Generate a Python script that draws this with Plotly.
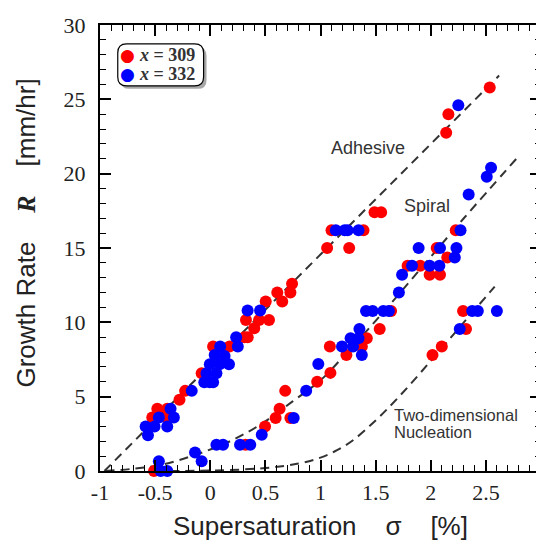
import plotly.graph_objects as go

# ---- data ----
red_x = [-0.51, -0.526, -0.39, -0.48, -0.39, -0.279, -0.228, -0.078, 0.026, 0.175,
         0.31, 0.34, 0.399, 0.324, 0.443, 0.533, 0.503, 0.653, 0.608, 0.727, 0.742,
         1.06, 1.26, 1.10, 1.39, 1.49, 1.55, 2.14, 2.16, 2.535,
         0.32, 0.497, 0.593, 0.727, 0.629, 0.68, 0.97, 1.09,
         1.085, 1.375, 1.235, 1.42, 1.537, 1.64, 1.79, 1.905, 1.99, 2.084, 2.054, 2.15, 2.227,
         2.016, 2.10, 2.32, 2.293]
red_y = [0.0, 3.6, 3.6, 4.18, 4.18, 4.79, 5.39, 6.58, 8.37, 8.37,
         9.0, 9.0, 9.6, 10.15, 10.15, 10.15, 11.4, 11.4, 12.0, 12.0, 12.6,
         15.0, 15.0, 16.2, 16.2, 17.4, 17.4, 22.75, 24.0, 25.8,
         1.77, 3.0, 3.56, 3.56, 4.18, 5.39, 6.0, 6.6,
         8.37, 8.37, 7.8, 8.93, 9.55, 10.76, 13.8, 13.8, 13.2, 13.2, 15.0, 14.36, 16.2,
         7.8, 8.37, 9.55, 10.76]

blue_x = [-0.565, -0.586, -0.505, -0.39, -0.466, -0.33, -0.36, -0.168, -0.054, -0.004, 0.026,
          -0.034, 0.056, -0.004, 0.085, 0.17, 0.04, 0.13, 0.09, 0.25, 0.235, 0.339, 0.452,
          1.139, 1.219, 1.246, 1.345, 2.25,
          -0.466, -0.45, -0.39, -0.138, -0.078, 0.056, 0.116, 0.27, 0.363, 0.467, 0.757,
          0.87, 0.98,
          1.195, 1.295, 1.273, 1.345, 1.353, 1.375, 1.413, 1.473, 1.57, 1.62, 1.711, 1.74,
          1.83, 1.99, 2.078, 1.89, 2.084, 2.233, 2.218, 2.27, 2.344, 2.508, 2.547,
          2.263, 2.376, 2.427, 2.6]
blue_y = [2.4, 3.0, 3.0, 3.0, 3.6, 3.6, 4.18, 5.39, 5.97, 5.97, 5.97,
          6.58, 6.58, 7.18, 7.18, 7.18, 7.8, 7.74, 8.37, 8.37, 9.0, 10.8, 10.8,
          16.2, 16.2, 16.2, 16.2, 24.6,
          0.65, 0.0, 0.0, 1.25, 0.65, 1.77, 1.77, 1.77, 1.77, 2.44, 3.56,
          5.4, 7.2,
          8.37, 8.37, 8.93, 8.93, 9.55, 7.8, 10.76, 10.76, 10.76, 10.76, 12.0, 13.2,
          13.8, 13.8, 13.8, 15.0, 15.0, 15.0, 14.36, 16.2, 18.6, 19.8, 20.4,
          9.55, 10.76, 10.76, 10.76]

# model curves (sampled from the figure)
adh_x = [-0.96, 2.62]
adh_y = [0.0, 26.6]
spi_x = [-0.95, -0.7, -0.45, -0.15, 0.15, 0.45, 0.75, 1.0, 1.22, 1.5, 1.7, 2.0, 2.3, 2.8]
spi_y = [0.0, 0.15, 0.4, 1.05, 1.9, 3.1, 4.7, 6.1, 7.8, 10.1, 11.8, 14.4, 17.0, 21.2]
nuc_x = [-0.5, 0.0, 0.5, 0.8, 1.0, 1.15, 1.3, 1.5, 1.7, 2.0, 2.3, 2.58]
nuc_y = [0.0, 0.03, 0.2, 0.5, 0.9, 1.4, 2.1, 3.4, 4.9, 7.4, 10.0, 12.4]

x_ticks = [-1, -0.5, 0, 0.5, 1, 1.5, 2, 2.5, 3]
x_labels = ["-1", "-0.5", "0", "0.5", "1", "1.5", "2", "2.5", "3"]
y_ticks = [0, 5, 10, 15, 20, 25, 30]

series_names = ["<b><i>x</i> = 309</b>", "<b><i>x</i> = 332</b>"]
series_colors = ["#ff0000", "#0000ff"]

fig = go.Figure()
dash_style = dict(color="#333333", width=2, dash="9px,6px")
for cx, cy, sh in [(adh_x, adh_y, "linear"), (spi_x, spi_y, "spline"), (nuc_x, nuc_y, "spline")]:
    fig.add_trace(go.Scatter(x=cx, y=cy, mode="lines", line=dict(shape=sh, **dash_style),
                             showlegend=False, hoverinfo="skip"))

for xs, ys, nm, col in [(red_x, red_y, series_names[0], series_colors[0]),
                        (blue_x, blue_y, series_names[1], series_colors[1])]:
    fig.add_trace(go.Scatter(x=xs, y=ys, mode="markers", name=nm, showlegend=False,
                             marker=dict(color=col, size=12), cliponaxis=False))

serif = "Liberation Serif"
sans = "Liberation Sans"
nb = "\u00a0"

W, H = 447.0, 447.0
def px2paper(px, py):
    return (px - 92) / W, 1 - (py - 16) / H

# legend box (rounded, with shadow)
def rrect(x0, y0, x1, y1, rx, ry):
    return (f"M {x0+rx},{y0} L {x1-rx},{y0} Q {x1},{y0} {x1},{y0+ry} "
            f"L {x1},{y1-ry} Q {x1},{y1} {x1-rx},{y1} L {x0+rx},{y1} "
            f"Q {x0},{y1} {x0},{y1-ry} L {x0},{y0+ry} Q {x0},{y0} {x0+rx},{y0} Z")

ax0, ay0 = px2paper(110, 77)
ax1, ay1 = px2paper(197, 35)
sx, sy = 3 / W, 3 / H
rx, ry = 9 / W, 9 / H
fig.add_shape(type="path", xref="paper", yref="paper",
              path=rrect(ax0 + sx, ay0 - sy, ax1 + sx, ay1 - sy, rx, ry),
              fillcolor="rgba(110,110,110,0.6)", line=dict(width=0), layer="above")
fig.add_shape(type="path", xref="paper", yref="paper",
              path=rrect(ax0, ay0, ax1, ay1, rx, ry),
              fillcolor="white", line=dict(color="black", width=1.2), layer="above")

# legend entries
for i, (nm, col) in enumerate(zip(series_names, series_colors)):
    row_y = 46 + 19 * i
    bx, by = px2paper(120, row_y)
    fig.add_annotation(xref="paper", yref="paper", x=bx, y=by, text="●", showarrow=False,
                       xanchor="center", yanchor="middle",
                       font=dict(family="DejaVu Sans", size=17, color=col))
    tx, ty = px2paper(130, row_y)
    fig.add_annotation(xref="paper", yref="paper", x=tx, y=ty, text=nm, showarrow=False,
                       xanchor="left", yanchor="middle",
                       font=dict(family=serif, size=18, color="#333333"))

# curve labels
ann_font = dict(family=sans, size=18, color="#333333")
fig.add_annotation(x=1.43, y=21.7, text="Adhesive", showarrow=False, font=ann_font)
fig.add_annotation(x=1.97, y=17.85, text="Spiral", showarrow=False, font=ann_font)
nuc_font = dict(family=sans, size=16.5, color="#333333")
fig.add_annotation(x=1.65, y=3.75, text="Two-dimensional", showarrow=False,
                   font=nuc_font, xanchor="left", yanchor="middle")
fig.add_annotation(x=1.65, y=2.6, text="Nucleation", showarrow=False,
                   font=nuc_font, xanchor="left", yanchor="middle")

# axis titles
title_font = dict(family=sans, size=26, color="#222222")
xt, yt = px2paper(315, 518)
fig.add_annotation(xref="paper", yref="paper", x=xt, y=yt, xanchor="center", yanchor="middle",
                   text=f"Supersaturation{nb*4}σ{nb*4}[%]", showarrow=False, font=title_font)
xt, yt = px2paper(17, 225)
fig.add_annotation(xref="paper", yref="paper", x=xt, y=yt, xanchor="center", yanchor="middle",
                   text=f"Growth Rate{nb*4}<b><i><span style='font-family:Liberation Serif'>R</span></i></b>{nb*4}[mm/hr]",
                   showarrow=False, textangle=-90, font=title_font)

axis_common = dict(showline=True, linewidth=2.2, linecolor="black", mirror="allticks",
                   ticks="inside", ticklen=11, tickwidth=1.6, tickcolor="black",
                   showgrid=False, zeroline=False,
                   tickfont=dict(family=serif, size=22, color="#222222"))

fig.update_layout(
    width=544, height=541,
    margin=dict(l=92, r=5, t=16, b=78),
    plot_bgcolor="white", paper_bgcolor="white",
    showlegend=False,
    xaxis=dict(range=[-1, 3], tickvals=x_ticks, ticktext=x_labels,
               minor=dict(dtick=0.1, ticklen=6, tickwidth=1.2, tickcolor="black", ticks="inside"),
               **axis_common),
    yaxis=dict(range=[0, 30], tickvals=y_ticks, ticklabelstandoff=8,
               minor=dict(dtick=1, ticklen=6, tickwidth=1.2, tickcolor="black", ticks="inside"),
               **axis_common),
)

fig.write_html("out.html")
